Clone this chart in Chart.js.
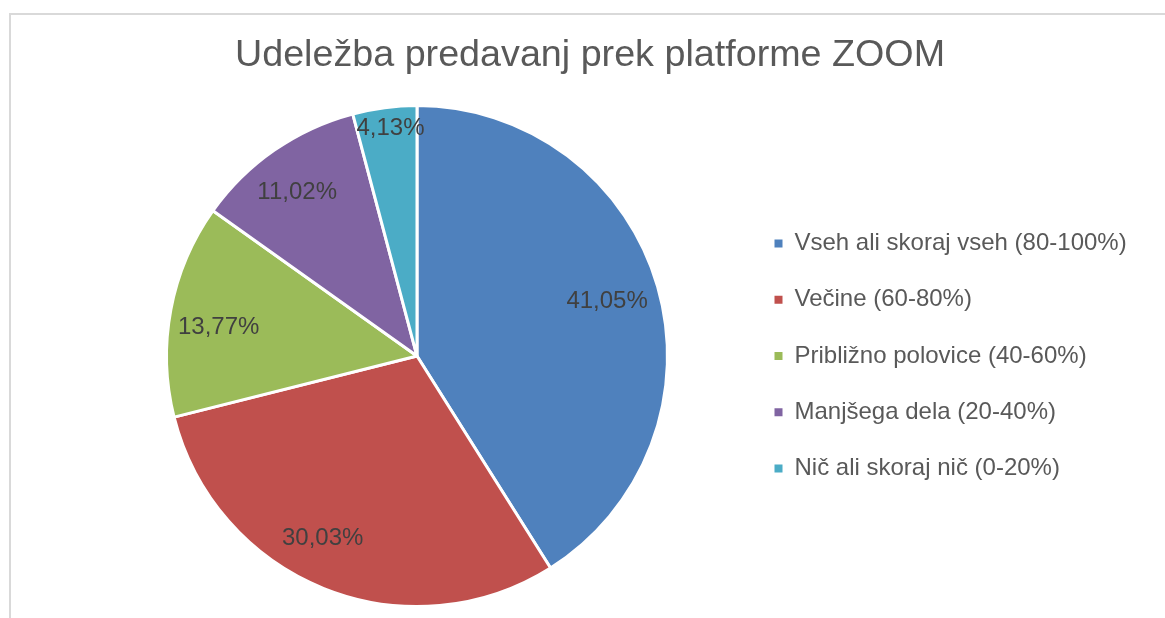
<!DOCTYPE html>
<html>
<head>
<meta charset="utf-8">
<script src="https://cdn.jsdelivr.net/npm/chart.js@4"></script>
<style>
  html, body { margin: 0; padding: 0; background: #ffffff; }
  #wrap { width: 1165px; height: 618px; }
</style>
</head>
<body>
<div id="wrap"><canvas id="c" width="1165" height="618"></canvas></div>
<script>
const titleText = 'Udeležba predavanj prek platforme ZOOM';
const categories = [
  'Vseh ali skoraj vseh (80-100%)',
  'Večine (60-80%)',
  'Približno polovice (40-60%)',
  'Manjšega dela (20-40%)',
  'Nič ali skoraj nič (0-20%)'
];
const shares = [41.05, 30.03, 13.77, 11.02, 4.13];
const sliceColors = ['#4F81BD', '#C0504D', '#9BBB59', '#8064A2', '#4BACC6'];

const FONT = '"Liberation Sans", Arial, Helvetica, sans-serif';
const LEGEND_WIDTH = 422.75;

const framePlugin = {
  id: 'frame',
  beforeDraw(chart) {
    const ctx = chart.ctx;
    ctx.save();
    ctx.strokeStyle = '#d9d9d9';
    ctx.lineWidth = 2;
    ctx.beginPath();
    ctx.moveTo(10, chart.height + 5);
    ctx.lineTo(10, 14);
    ctx.lineTo(chart.width + 5, 14);
    ctx.stroke();
    ctx.restore();
  }
};

const sliceLabels = {
  id: 'sliceLabels',
  afterDatasetsDraw(chart, args, opts) {
    const ctx = chart.ctx;
    const meta = chart.getDatasetMeta(0);
    const data = chart.data.datasets[0].data;
    ctx.save();
    ctx.font = opts.font;
    ctx.fillStyle = opts.color;
    ctx.textAlign = 'center';
    ctx.textBaseline = 'middle';
    meta.data.forEach((arc, i) => {
      const p = arc.getProps(['x', 'y', 'startAngle', 'endAngle', 'outerRadius'], true);
      const mid = (p.startAngle + p.endAngle) / 2 + (opts.angleShift[i] || 0) * Math.PI / 180;
      const r = p.outerRadius * opts.radius[i];
      ctx.fillText(data[i].toFixed(2).replace('.', ',') + '%', p.x + Math.cos(mid) * r, p.y + Math.sin(mid) * r);
    });
    ctx.restore();
  }
};

const layoutTweaks = {
  id: 'layoutTweaks',
  beforeInit(chart) {
    const lg = chart.legend;
    if (lg) {
      const origFit = lg.fit;
      lg.fit = function () {
        origFit.call(this);
        this.width = LEGEND_WIDTH;
      };
    }
  },
  afterLayout(chart) {
    const t = chart.titleBlock;
    if (t) {
      t.left = 15;
      t.right = chart.width;
      t.width = t.right - t.left;
    }
  }
};

const chart = new Chart(document.getElementById('c'), {
  type: 'pie',
  data: {
    labels: categories,
    datasets: [{
      data: shares,
      backgroundColor: sliceColors,
      borderColor: '#ffffff',
      borderWidth: 3
    }]
  },
  options: {
    responsive: false,
    animation: false,
    devicePixelRatio: 1,
    layout: { padding: { left: 91.75, right: 0, top: 0, bottom: 10 } },
    plugins: {
      tooltip: { enabled: false },
      title: {
        display: true,
        text: titleText,
        color: '#595959',
        font: { family: FONT, size: 37.7, weight: 'normal', lineHeight: 1.2 },
        padding: { top: 33.4, bottom: 25.4 }
      },
      legend: {
        position: 'right',
        fullSize: false,
        labels: {
          boxWidth: 8,
          boxHeight: 8,
          padding: 32.25,
          color: '#595959',
          font: { family: FONT, size: 24 },
          generateLabels(ch) {
            const items = Chart.overrides.pie.plugins.legend.labels.generateLabels(ch);
            items.forEach(it => { it.lineWidth = 0; it.strokeStyle = 'rgba(0,0,0,0)'; });
            return items;
          }
        }
      },
      sliceLabels: {
        font: '24px ' + FONT,
        color: '#404040',
        radius: [0.79, 0.82, 0.80, 0.81, 0.915],
        angleShift: [0, 5.5, -2.5, -1.5, 0.8]
      }
    }
  },
  plugins: [framePlugin, sliceLabels, layoutTweaks]
});
</script>
</body>
</html>
